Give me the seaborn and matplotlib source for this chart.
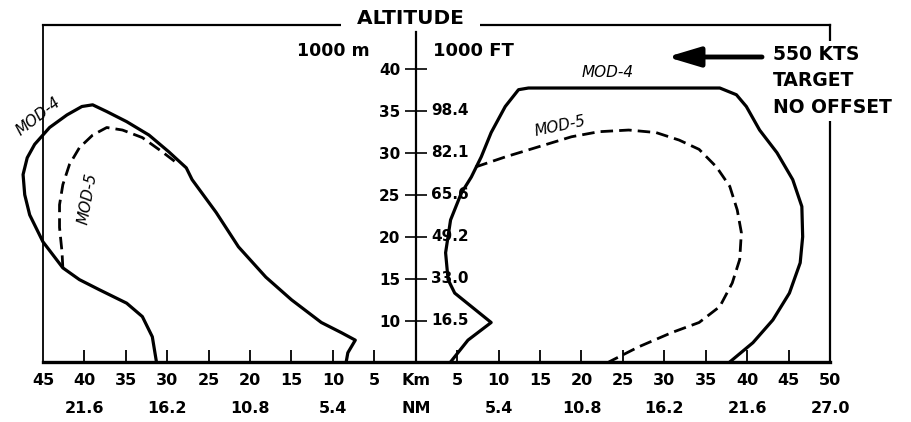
import matplotlib
matplotlib.use("Agg")
import matplotlib.pyplot as plt
import seaborn as sns
import pandas as pd

# ---- data (range in km, altitude on the "1000 m" scale) ----
# left side: range measured leftwards from the centre axis
left_mod4_km = [31.3, 31.8, 33.0, 34.9, 38.2, 40.6, 42.6, 45.0, 46.6, 47.2, 47.4, 46.9,
                46.0, 44.2, 42.1, 40.3, 39.0, 37.3, 34.9, 32.2, 29.8, 27.7, 27.0, 24.1,
                21.4, 18.1, 15.0, 11.4, 9.0, 7.3, 8.2, 8.4]
left_mod4_alt = [5.1, 8.1, 10.5, 12.1, 13.7, 14.9, 16.3, 19.4, 22.6, 25.0, 27.4, 29.4,
                 31.0, 33.0, 34.5, 35.5, 35.7, 34.9, 33.7, 32.1, 30.1, 28.2, 26.8, 22.9,
                 18.8, 15.2, 12.5, 9.8, 8.6, 7.7, 6.2, 5.1]
left_mod5_km = [42.6, 42.7, 43.0, 43.0, 42.6, 41.8, 40.6, 39.0, 37.3, 35.4, 33.0, 30.6, 28.6]
left_mod5_alt = [16.3, 18.2, 21.1, 23.8, 26.2, 28.6, 30.6, 32.1, 33.0, 32.7, 31.8, 30.1, 28.6]

right_mod4_km = [4.2, 6.3, 9.1, 4.7, 3.9, 3.6, 4.2, 5.5, 6.7, 7.9, 9.1, 10.8, 12.4, 13.6,
                 36.7, 38.7, 39.9, 41.5, 43.6, 45.5, 46.6, 46.7, 46.4, 45.1, 43.1, 40.7, 37.9]
right_mod4_alt = [5.1, 7.7, 9.8, 13.3, 14.9, 18.1, 22.0, 25.2, 27.1, 29.5, 32.4, 35.5,
                  37.5, 37.7, 37.7, 36.9, 35.5, 32.7, 30.0, 26.8, 23.6, 20.0, 16.9, 13.3,
                  10.1, 7.4, 5.1]
right_mod5_km = [7.2, 10.8, 14.8, 18.8, 22.1, 25.7, 29.0, 31.8, 34.2, 36.3, 37.9, 38.8,
                 39.3, 39.1, 38.2, 36.7, 34.2, 30.9, 26.9, 23.3]
right_mod5_alt = [28.3, 29.5, 30.7, 31.9, 32.5, 32.7, 32.4, 31.5, 30.4, 28.3, 26.0, 23.2,
                  20.5, 17.3, 14.5, 11.7, 9.8, 8.6, 6.9, 5.1]

km_ticks = [-45, -40, -35, -30, -25, -20, -15, -10, -5, 0, 5, 10, 15, 20, 25, 30, 35, 40, 45, 50]
km_labels = ["45", "40", "35", "30", "25", "20", "15", "10", "5", "Km",
             "5", "10", "15", "20", "25", "30", "35", "40", "45", "50"]
nm_ticks = [-40, -30, -20, -10, 0, 10, 20, 30, 40, 50]
nm_labels = ["21.6", "16.2", "10.8", "5.4", "NM", "5.4", "10.8", "16.2", "21.6", "27.0"]

alt_m_ticks = [10, 15, 20, 25, 30, 35, 40]
alt_m_labels = ["10", "15", "20", "25", "30", "35", "40"]
alt_ft_ticks = [10, 15, 20, 25, 30, 35]
alt_ft_labels = ["16.5", "33.0", "49.2", "65.6", "82.1", "98.4"]

sns.set_style("white", {"axes.edgecolor": "black", "text.color": "black",
                        "xtick.color": "black", "ytick.color": "black"})
plt.rcParams["font.family"] = ["DejaVu Sans"]
plt.rcParams["font.weight"] = "bold"

fig = plt.figure(figsize=(9.12, 4.22), dpi=100)
ax = fig.add_axes([0.0471, 0.1422, 0.8630, 0.7986])

curves = [
    (pd.DataFrame({"km": [-v for v in left_mod4_km], "alt": left_mod4_alt}), "-"),
    (pd.DataFrame({"km": [-v for v in left_mod5_km], "alt": left_mod5_alt}), "--"),
    (pd.DataFrame({"km": right_mod4_km, "alt": right_mod4_alt}), "-"),
    (pd.DataFrame({"km": right_mod5_km, "alt": right_mod5_alt}), "--"),
]
for df, ls in curves:
    sns.lineplot(data=df, x="km", y="alt", sort=False, estimator=None, ax=ax,
                 color="black", lw=2.3 if ls == "-" else 2.0)
    line = ax.lines[-1]
    line.set_clip_on(False)
    line.set_solid_capstyle("round")
    line.set_solid_joinstyle("round")
    if ls == "--":
        line.set_dashes([4.5, 2.2])

ax.set_xlim(-45, 50)
ax.set_ylim(5.1, 45.2)
ax.set_xlabel("")
ax.set_ylabel("")

# frame
for side in ["top", "right"]:
    ax.spines[side].set_linewidth(1.6)
ax.spines["bottom"].set_linewidth(2.4)
ax.axvline(-45, color="black", lw=1.3, clip_on=False)

# centre altitude axis
ax.spines["left"].set_position(("data", 0))
ax.spines["left"].set_bounds(5.1, 44.4)
ax.spines["left"].set_linewidth(1.6)
ax.set_yticks(alt_m_ticks, alt_m_labels)
ax.tick_params(axis="y", direction="inout", length=16, width=1.2, pad=3,
               labelsize=11, left=True)
for y, lab in zip(alt_ft_ticks, alt_ft_labels):
    ax.annotate(lab, xy=(0, y), xytext=(11, 0), textcoords="offset points",
                ha="left", va="center", fontsize=11, fontweight="bold")

# range axis
ax.set_xticks(km_ticks, km_labels)
ax.tick_params(axis="x", direction="in", length=9, width=1.3, pad=8,
               labelsize=11.5, bottom=True)
for t in ax.xaxis.get_major_ticks():
    if t.get_loc() in (-45, 0, 50):
        t.tick1line.set_visible(False)
xtrans = ax.get_xaxis_transform()
for x, lab in zip(nm_ticks, nm_labels):
    ax.text(x, -0.137, lab, transform=xtrans, ha="center", va="center",
            fontsize=11.5, fontweight="bold")

# titles and labels
ax.text(-0.6, 46.0, "  ALTITUDE  ", ha="center", va="center", fontsize=14.5,
        fontweight="bold", bbox=dict(boxstyle="square,pad=0.1", fc="white", ec="none"))
ax.text(-10.0, 42.1, "1000 m", ha="center", va="center", fontsize=12.5, fontweight="bold")
ax.text(2.1, 42.1, "1000 FT", ha="left", va="center", fontsize=13, fontweight="bold")

ax.text(0.9276, 0.834, "550 KTS\nTARGET\nNO OFFSET", transform=ax.transAxes,
        ha="left", va="center", fontsize=13.5, fontweight="bold", linespacing=1.5,
        bbox=dict(boxstyle="square,pad=0.2", fc="white", ec="none"))
ax.annotate("", xy=(0.793, 0.905), xytext=(0.9136, 0.905), xycoords="axes fraction",
            arrowprops=dict(arrowstyle="-|>,head_length=1.1,head_width=0.33", lw=3.5,
                            color="black", mutation_scale=18, shrinkA=0, shrinkB=0))

mod_style = dict(fontsize=11, fontstyle="italic", fontweight="normal", ha="center", va="center")
ax.text(-45.5, 34.3, "MOD-4", rotation=38, **mod_style)
ax.text(-39.6, 24.6, "MOD-5", rotation=80, **mod_style)
ax.text(23.2, 39.6, "MOD-4", rotation=0, **mod_style)
ax.text(17.4, 33.2, "MOD-5", rotation=12, **mod_style)

fig.savefig("out.png", dpi=100)
